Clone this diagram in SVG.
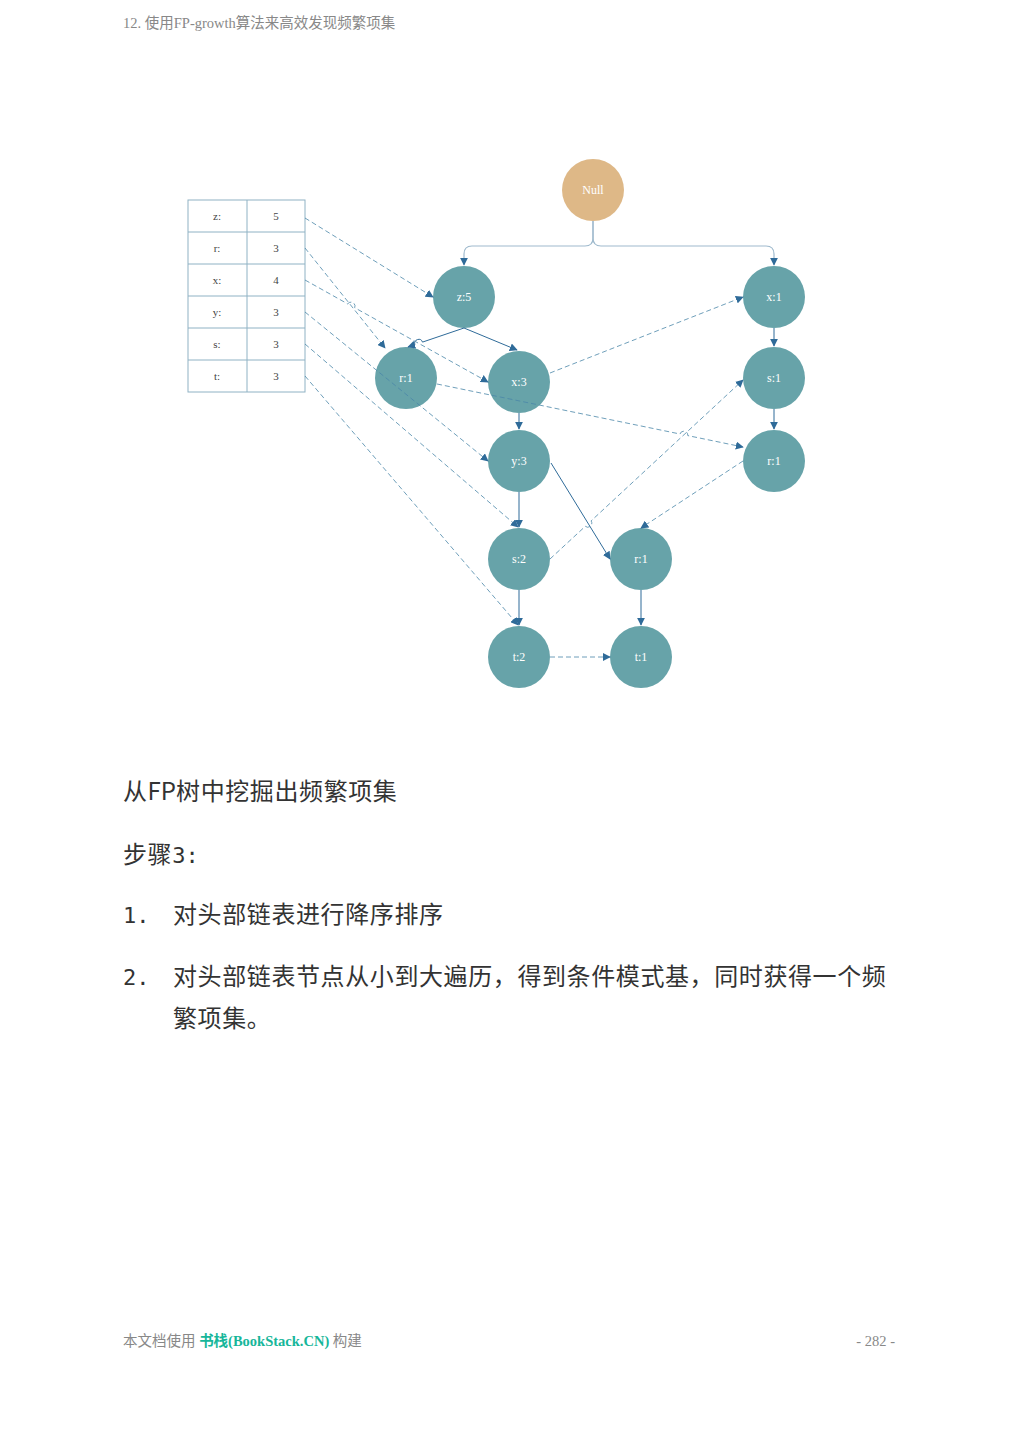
<svg xmlns="http://www.w3.org/2000/svg" width="1019" height="1440" viewBox="0 0 1019 1440">
<defs>
<marker id="ah" viewBox="0 0 10 10" refX="9" refY="5" markerWidth="8" markerHeight="8" markerUnits="userSpaceOnUse" orient="auto"><path d="M0,0 L10,5 L0,10 z" fill="#2f6b99"/></marker>
<style>
.n{fill:#67a3a9}
.nl{font-family:"Liberation Serif",serif;font-size:12px;fill:#fff;text-anchor:middle}
.e{fill:none;stroke:#2f6b99;stroke-width:1;marker-end:url(#ah)}
.e2{fill:none;stroke:#9fbacd;stroke-width:1.2;marker-end:url(#ah)}
.d{fill:none;stroke:#4a86a8;stroke-width:0.8;stroke-dasharray:5 3;marker-end:url(#ah)}
.tb{fill:none;stroke:#8fb2c4;stroke-width:1}
.tt{font-family:"Liberation Serif",serif;font-size:11px;fill:#444;text-anchor:middle}
.body{font-family:"Noto Sans CJK SC","Noto Sans",sans-serif;font-size:24px;fill:#333;letter-spacing:0.6px}
.mono{font-family:"DejaVu Sans Mono","Liberation Mono",monospace;font-size:22px;fill:#333}
</style>
</defs>
<rect width="1019" height="1440" fill="#fff"/>
<text x="123" y="28" font-family="Liberation Serif,Noto Sans CJK SC,serif" font-size="14.5" fill="#888">12. 使用FP-growth算法来高效发现频繁项集</text>

<g id="header-table">
<rect class="tb" x="188" y="200" width="117" height="192"/>
<line class="tb" x1="247" y1="200" x2="247" y2="392"/>
<line class="tb" x1="188" y1="232" x2="305" y2="232"/>
<line class="tb" x1="188" y1="264" x2="305" y2="264"/>
<line class="tb" x1="188" y1="296" x2="305" y2="296"/>
<line class="tb" x1="188" y1="328" x2="305" y2="328"/>
<line class="tb" x1="188" y1="360" x2="305" y2="360"/>
<text class="tt" x="217" y="220">z:</text><text class="tt" x="276" y="220">5</text>
<text class="tt" x="217" y="252">r:</text><text class="tt" x="276" y="252">3</text>
<text class="tt" x="217" y="284">x:</text><text class="tt" x="276" y="284">4</text>
<text class="tt" x="217" y="316">y:</text><text class="tt" x="276" y="316">3</text>
<text class="tt" x="217" y="348">s:</text><text class="tt" x="276" y="348">3</text>
<text class="tt" x="217" y="380">t:</text><text class="tt" x="276" y="380">3</text>
</g>

<g id="node-null"><circle cx="593" cy="190" r="31" fill="#deb887"/><text class="nl" x="593" y="194">Null</text></g>
<g id="node-z5"><circle class="n" cx="464" cy="297" r="31"/><text class="nl" x="464" y="301">z:5</text></g>
<g id="node-x1"><circle class="n" cx="774" cy="297" r="31"/><text class="nl" x="774" y="301">x:1</text></g>
<g id="node-r1a"><circle class="n" cx="406" cy="378" r="31"/><text class="nl" x="406" y="382">r:1</text></g>
<g id="node-x3"><circle class="n" cx="519" cy="382" r="31"/><text class="nl" x="519" y="386">x:3</text></g>
<g id="node-s1"><circle class="n" cx="774" cy="378" r="31"/><text class="nl" x="774" y="382">s:1</text></g>
<g id="node-y3"><circle class="n" cx="519" cy="461" r="31"/><text class="nl" x="519" y="465">y:3</text></g>
<g id="node-r1c"><circle class="n" cx="774" cy="461" r="31"/><text class="nl" x="774" y="465">r:1</text></g>
<g id="node-s2"><circle class="n" cx="519" cy="559" r="31"/><text class="nl" x="519" y="563">s:2</text></g>
<g id="node-r1b"><circle class="n" cx="641" cy="559" r="31"/><text class="nl" x="641" y="563">r:1</text></g>
<g id="node-t2"><circle class="n" cx="519" cy="657" r="31"/><text class="nl" x="519" y="661">t:2</text></g>
<g id="node-t1"><circle class="n" cx="641" cy="657" r="31"/><text class="nl" x="641" y="661">t:1</text></g>

<g id="connectors">
<path class="e2" d="M593,221 V238 Q593,246 585,246 H472 Q464,246 464,254 V265"/>
<path class="e2" d="M593,221 V238 Q593,246 601,246 H766 Q774,246 774,254 V265"/>
<path class="e" d="M464,328 L422.5,342.1 A4,4 0 0 0 414.9,344.7 L408,347"/>
<path class="e" d="M464,328 L517,350"/>
<path class="e" d="M519,413 V429"/>
<path class="e" d="M519,492 V527"/>
<path class="e" d="M551,463 L610,559"/>
<path class="e" d="M519,590 V625"/>
<path class="e" d="M641,590 V625"/>
<path class="e" d="M774,328 V346"/>
<path class="e" d="M774,409 V429"/>
<path class="d" d="M305,218 L433,297"/>
<path class="d" d="M305,248 L385,348"/>
<path class="d" d="M305,280 L347.7,303.9 A4,4 0 0 1 354.7,307.7 L488,382"/>
<path class="d" d="M305,312 L488,461"/>
<path class="d" d="M305,344 L518,527"/>
<path class="d" d="M305,376 L518,625"/>
<path class="d" d="M550,373 L743,297"/>
<path class="d" d="M437,384 L680,434 A4,4 0 0 1 687.8,435.6 L743,447"/>
<path class="d" d="M550,559 L585.3,526.3 A4,4 0 0 0 591.1,520.9 L743,380"/>
<path class="d" d="M743,461 L641,528"/>
<path class="d" d="M550,657 L610,657"/>
</g>

<text class="body" x="123" y="800">从<tspan letter-spacing="0">FP</tspan>树中挖掘出频繁项集</text>
<text class="body" x="123" y="863">步骤<tspan font-family="DejaVu Sans Mono,monospace" font-size="22" letter-spacing="0">3:</tspan></text>
<text class="mono" x="123" y="923">1.</text>
<text class="body" x="173" y="923">对头部链表进行降序排序</text>
<text class="mono" x="123" y="985">2.</text>
<text class="body" x="173" y="985">对头部链表节点从小到大遍历，得到条件模式基，同时获得一个频</text>
<text class="body" x="173" y="1027">繁项集。</text>

<text x="123" y="1346" font-family="Liberation Serif,Noto Sans CJK SC,serif" font-size="14.5" fill="#888">本文档使用 <tspan fill="#16b69a" font-weight="bold">书栈(BookStack.CN)</tspan> 构建</text>
<text x="895" y="1346" text-anchor="end" font-family="Liberation Serif,serif" font-size="14.5" fill="#888">- 282 -</text>
</svg>
